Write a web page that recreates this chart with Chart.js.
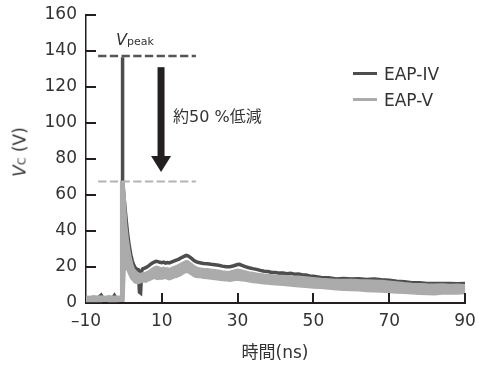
<!DOCTYPE html>
<html>
<head>
<meta charset="utf-8">
<script src="https://cdn.jsdelivr.net/npm/chart.js@4.4.1/dist/chart.umd.min.js"></script>
<style>
  body { margin: 0; background: #fff; }
  #wrap { position: relative; width: 479px; height: 365px; font-family: "DejaVu Sans", "Noto Sans CJK JP", sans-serif; color: #333; }
  #wrap canvas { position: absolute; left: 0; top: 0; }
  .lbl { position: absolute; white-space: nowrap; line-height: 1; }
  .swatch { position: absolute; width: 24px; height: 3px; }
</style>
</head>
<body>
<div id="wrap">
  <canvas id="chart" width="479" height="365"></canvas>
  <div class="lbl" id="ytitle" style="left:20px; top:152px; font-size:17px; transform: translate(-50%,-50%) rotate(-90deg);"><i>V</i><span style="font-size:11px;">C</span> (V)</div>
  <div class="lbl" style="left:275px; top:344px; font-size:17px; transform: translateX(-50%);">時間(ns)</div>
  <div class="lbl" style="left:116px; top:32px; font-size:16px;"><i>V</i><span style="font-size:11px;">peak</span></div>
  <div class="lbl" style="left:173px; top:109px; font-size:16px;">約50 %低減</div>
  <div class="swatch" style="left:353px; top:72px; background:#4d4d4d;"></div>
  <div class="lbl" style="left:384px; top:66px; font-size:17px;">EAP-IV</div>
  <div class="swatch" style="left:353px; top:98px; background:#ababab;"></div>
  <div class="lbl" style="left:384px; top:92px; font-size:17px;">EAP-V</div>
</div>
<script>
// EAP-IV trace (ns, V)
const timeDark = [
  -10, -9, -8, -7, -6, -5.5, -5, -4, -3, -2.5, -2, -1, -0.5, -0.4, -0.3,
  0.2, 0.6, 1.0, 1.4, 1.8, 2.2, 2.6, 3.0, 3.4, 3.8, 4.1, 4.4, 4.7, 5,
  5.5, 6, 6.5, 7, 7.5, 8, 8.5, 9, 9.5, 10, 10.5, 11, 11.5, 12, 12.5,
  13, 13.5, 14, 14.5, 15, 15.5, 16, 16.5, 17, 17.5, 18, 18.5, 19, 19.5,
  20, 21, 22, 23, 24, 25, 26, 27, 28, 29, 30, 30.5, 31, 32, 33, 34, 35,
  36, 37, 38, 39, 40, 41, 42, 43, 44, 45, 46, 47, 48, 49, 50, 52, 54,
  56, 58, 60, 62, 64, 66, 68, 70, 72, 74, 76, 78, 80, 82, 84, 86, 88, 90
];
const voltDark = [
  2.5, 2.8, 2.5, 2.6, 4.4, 2.6, 2.4, 2.7, 2.5, 4.2, 2.6, 2.8, 3, 136.5, 68,
  55, 46, 38, 32, 27, 23.5, 21, 19.5, 18.8, 18.5, 6, 5.5, 18, 19,
  19.4, 19.9, 20.6, 21.4, 22.2, 22.7, 23.2, 23, 22.6, 22.4, 22.7, 22.2, 22.5, 22.3, 22.7,
  23.1, 23.5, 23.9, 24.4, 25, 25.5, 26, 26.5, 26.1, 25.3, 24.5, 23.6, 23, 22.6,
  22.4, 22, 21.8, 21.5, 21.3, 21, 20.5, 20.1, 20.2, 20.7, 21.4, 21.5, 21, 20.2, 19.6, 19.1, 18.7,
  18.1, 17.6, 17.5, 17, 16.9, 16.6, 16.7, 16.3, 16.5, 16, 16.1, 15.7, 15.5, 15, 14.9, 14.2, 14,
  13.4, 13.6, 13.4, 13.5, 13.1, 13.3, 12.9, 12.6, 12.1, 11.8, 11.2, 11.2, 10.8, 10.9, 10.8, 10.9, 10.7, 10.8
];

// EAP-V trace, drawn as a noisy band (upper / lower edge)
const timeGray = [
  -10, -9, -8, -7, -6, -5, -4, -3, -2, -1.0, -0.85, 0.0, 0.3, 0.7, 1.1, 1.5, 1.9, 2.3, 2.7,
  3.2, 3.6, 4, 4.5, 5, 5.5, 6, 6.5, 7, 7.5, 8, 8.5, 9, 9.5, 10, 10.5, 11, 11.5, 12, 12.5,
  13, 13.5, 14, 14.5, 15, 15.5, 16, 16.5, 17, 17.5, 18, 18.5, 19, 19.5, 20, 21, 22, 23, 24, 25,
  26, 27, 28, 29, 30, 31, 32, 33, 34, 35, 36, 37, 38, 39, 40, 42, 44, 46, 48, 50,
  52, 54, 56, 58, 60, 62, 64, 66, 68, 70, 72, 74, 76, 78, 80, 82, 84, 86, 88, 90
];
const grayHigh = [
  3.8, 3.6, 4, 3.7, 3.9, 3.6, 4, 3.8, 3.7, 3.9, 67.5, 67, 60, 44, 36, 30, 25, 21.5, 19,
  17.8, 17, 16.6, 16.4, 16.8, 17, 17.3, 17.9, 18.6, 19.3, 19.9, 20.4, 20.2, 19.7, 19.5, 19.8, 19.3, 19.5, 19.1, 19.6,
  20, 20.4, 20.9, 21.4, 22, 22.5, 23.1, 23.6, 23.2, 22.5, 21.7, 20.8, 20.2, 19.8, 19.5, 19.2, 19, 18.7, 18.5, 18.2,
  17.8, 17.5, 17.6, 18.2, 18.8, 18.4, 17.8, 17.2, 16.9, 16.5, 16.3, 16, 15.8, 15.6, 15.4, 15.3, 15, 14.8, 14.4, 14,
  13.6, 13.3, 13, 13, 13.1, 12.9, 12.8, 12.7, 12.5, 12.1, 11.7, 11.2, 10.9, 10.7, 10.5, 10.4, 10.5, 10.3, 10.4, 10.2
];
const grayLow = [
  0.9, 1, 0.8, 1, 0.9, 1.1, 0.9, 1, 0.8, 1, 1, 1, 18, 19, 17, 15, 13.5, 12.5, 11.5,
  11, 10.8, 10.9, 11.3, 11.8, 11.6, 11.6, 12.4, 12.8, 13.3, 13.7, 13.3, 13.1, 13.5, 13.2, 13.6, 13.8, 13.2, 12.9, 13.3,
  13.7, 14.1, 14.3, 14.9, 15.3, 16, 16.6, 17, 16.8, 16.1, 15.3, 14.7, 14.3, 14.2, 14.1, 13.8, 13.6, 13.3, 13.1, 12.8,
  12.5, 12.3, 12.1, 12.5, 12.8, 12.4, 12.2, 11.8, 11.4, 11.2, 10.9, 10.7, 10.5, 10.3, 10.2, 9.8, 9.4, 9, 8.8, 8.4,
  8.2, 7.8, 7.3, 7.1, 7, 6.8, 6.4, 6.3, 6.1, 5.9, 5.6, 5.4, 5.1, 4.9, 4.7, 4.6, 5, 5.2, 5, 5.3
];

// peak reference lines and the reduction arrow
const peakSpan = [-6.8, 19];
const peakLevels = [137.2, 67.5];
const arrowTime = [9.8];
const arrowRange = [131, 72.8];

// axes
const xTicks = [-10, 90, 20];
const yTicks = [0, 160, 20];

const pts = (t, v) => t.map((x, i) => ({ x, y: v[i] }));

Chart.defaults.font.family = '"DejaVu Sans", sans-serif';
Chart.defaults.font.size = 17;
Chart.defaults.color = '#333';

// tick marks point inwards, plus the reduction arrow
const innerTicks = {
  id: 'innerTicks',
  afterDatasetsDraw(chart) {
    const { ctx, chartArea: a, scales: { x, y } } = chart;
    ctx.save();
    ctx.strokeStyle = '#231f20';
    ctx.lineWidth = 2;
    ctx.beginPath();
    y.ticks.forEach(t => {
      if (t.value === y.min) return;
      const py = Math.round(y.getPixelForValue(t.value));
      ctx.moveTo(a.left, py);
      ctx.lineTo(a.left + 10, py);
    });
    x.ticks.forEach(t => {
      if (t.value === x.min) return;
      const px = Math.round(x.getPixelForValue(t.value));
      ctx.moveTo(px, a.bottom);
      ctx.lineTo(px, a.bottom - 10);
    });
    ctx.stroke();

    const ax = x.getPixelForValue(arrowTime[0]);
    const top = y.getPixelForValue(arrowRange[0]);
    const tip = y.getPixelForValue(arrowRange[1]);
    const head = 16;
    ctx.fillStyle = '#231f20';
    ctx.fillRect(ax - 3.5, top, 7, tip - head - top + 1);
    ctx.beginPath();
    ctx.moveTo(ax - 10, tip - head);
    ctx.lineTo(ax + 10, tip - head);
    ctx.lineTo(ax, tip);
    ctx.closePath();
    ctx.fill();
    ctx.restore();
  }
};

new Chart(document.getElementById('chart'), {
  type: 'line',
  data: {
    datasets: [
      {
        label: 'peak IV',
        data: pts(peakSpan, [peakLevels[0], peakLevels[0]]),
        borderColor: '#555',
        borderWidth: 2.5,
        borderDash: [8.3, 3.4],
        order: 0
      },
      {
        label: 'peak V',
        data: pts(peakSpan, [peakLevels[1], peakLevels[1]]),
        borderColor: '#b3b3b3',
        borderWidth: 2,
        borderDash: [8.3, 3.4],
        order: 0
      },
      {
        label: 'EAP-V',
        data: pts(timeGray, grayHigh),
        borderColor: '#ababab',
        borderWidth: 1.5,
        backgroundColor: '#ababab',
        fill: '+1',
        order: 1
      },
      {
        label: 'EAP-V low',
        data: pts(timeGray, grayLow),
        borderColor: '#ababab',
        borderWidth: 1.5,
        fill: false,
        order: 1
      },
      {
        label: 'EAP-IV',
        data: pts(timeDark, voltDark),
        borderColor: '#4d4d4d',
        borderWidth: 3.5,
        fill: false,
        order: 2
      }
    ]
  },
  options: {
    responsive: false,
    devicePixelRatio: 1,
    animation: false,
    layout: { padding: { top: 15, right: 14, left: 0, bottom: 0 } },
    elements: { point: { radius: 0 }, line: { tension: 0 } },
    plugins: { legend: { display: false }, tooltip: { enabled: false } },
    scales: {
      x: {
        type: 'linear',
        min: xTicks[0],
        max: xTicks[1],
        afterFit: s => { s.height = 62; s.paddingLeft = 0; s.paddingRight = 0; },
        ticks: {
          stepSize: xTicks[2],
          padding: 8,
          color: '#333',
          callback: v => v < 0 ? '\u2013' + Math.abs(v) : String(v)
        },
        grid: { display: false, drawTicks: false },
        border: { color: '#231f20', width: 2 }
      },
      y: {
        min: yTicks[0],
        max: yTicks[1],
        afterFit: s => { s.width = 86; s.paddingTop = 0; s.paddingBottom = 0; },
        ticks: { stepSize: yTicks[2], padding: 9, color: '#333' },
        grid: { display: false, drawTicks: false },
        border: { color: '#231f20', width: 1.5 }
      }
    }
  },
  plugins: [innerTicks]
});
</script>
</body>
</html>
